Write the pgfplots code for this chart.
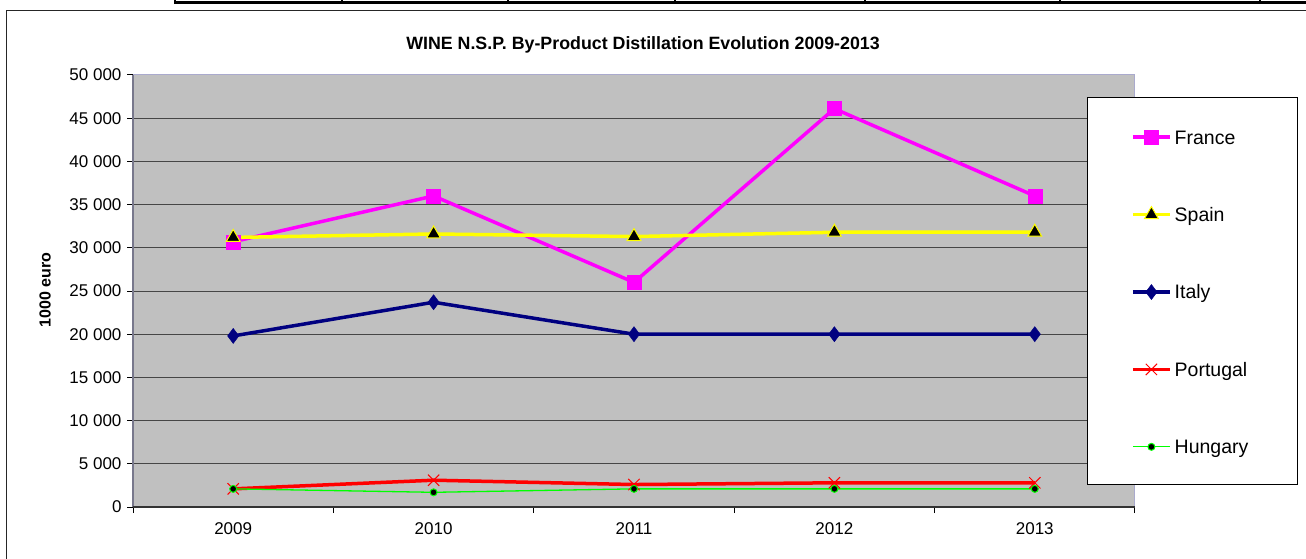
\documentclass[border=0pt]{standalone}
\usepackage{fontspec}
\setmainfont{Liberation Sans}
\usepackage{pgfplots}
\pgfplotsset{compat=1.18}
\definecolor{plotbg}{RGB}{192,192,192}
\definecolor{frmag}{RGB}{255,0,255}
\definecolor{spyel}{RGB}{255,255,0}
\definecolor{itnavy}{RGB}{0,0,128}
\definecolor{ptred}{RGB}{255,0,0}
\definecolor{hugreen}{RGB}{0,255,0}
\definecolor{pborder}{RGB}{170,170,205}
\definecolor{gridc}{RGB}{70,70,70}
\definecolor{leftax}{RGB}{120,120,140}
\begin{document}
\begin{tikzpicture}
\useasboundingbox (0pt,0pt) rectangle (1306pt,-559pt);
\fill[white] (0pt,0pt) rectangle (1306pt,-559pt);
% table fragment at the top
\fill[black] (175pt,-1.5pt) rectangle (1306pt,-4.5pt);
\foreach \xx in {175,342,508,675,865,1060,1260} \draw[black,line width=1.3pt] (\xx pt,0pt) -- (\xx pt,-4.5pt);
% chart frame
\draw[black!85, line width=1pt] (6pt,-570pt) -- (6pt,-11pt) -- (1320pt,-11pt);
\node[font=\fontsize{17.8}{20}\selectfont\bfseries] at (643pt,-45pt) {WINE N.S.P. By-Product Distillation Evolution 2009-2013};
\begin{axis}[
  at={(133pt,-507pt)}, anchor=south west,
  scale only axis, width=1002pt, height=432pt,
  xmin=-0.5, xmax=4.5, ymin=0, ymax=50000,
  axis background/.style={fill=plotbg},
  axis line style={draw=pborder, line width=1pt},
  clip=false,
  tick pos=left, tick align=outside,
  major tick length=6pt, minor tick length=6pt,
  xtick={0,1,2,3,4},
  xticklabels={2009,2010,2011,2012,2013},
  minor xtick={-0.5,0.5,1.5,2.5,3.5,4.5},
  major x tick style={draw=none},
  minor x tick style={black, line width=1pt},
  ytick={0,5000,10000,15000,20000,25000,30000,35000,40000,45000,50000},
  yticklabels={0,5 000,10 000,15 000,20 000,25 000,30 000,35 000,40 000,45 000,50 000},
  scaled y ticks=false,
  ytick style={black, line width=1pt},
  ymajorgrids,
  major grid style={gridc, line width=1pt},
  yticklabel style={font=\fontsize{17}{20}\selectfont, xshift=-2pt},
  xticklabel style={font=\fontsize{17}{20}\selectfont, yshift=-6pt},
  ylabel={1000 euro},
  every axis y label/.style={at={(axis description cs:-0.0878,0.502)}, rotate=90, anchor=center, font=\fontsize{16}{18}\selectfont\bfseries},
  legend image code/.code={\draw[mark repeat=2,mark phase=2,#1] plot coordinates {(0pt,0pt) (18.5pt,0pt) (37pt,0pt)};},
  legend style={at={(0.996,0.8806)}, anchor=north west, draw=none, fill=none,
    inner sep=0pt, row sep=56.5pt, column sep=1pt,
    font=\fontsize{19.5}{22}\selectfont},
  legend cell align=left,
]
\addplot[frmag, line width=3.5pt, mark=square*, mark size=7pt, mark options={fill=frmag, draw=frmag, line width=0.5pt}]
  coordinates {(0,30700) (1,36000) (2,26000) (3,46100) (4,36000)};
\addlegendentry{France\strut}
\addplot[spyel, line width=3.5pt, mark=triangle*, mark size=8pt, mark options={fill=black, draw=spyel, line width=1pt}]
  coordinates {(0,31200) (1,31600) (2,31300) (3,31800) (4,31800)};
\addlegendentry{Spain\strut}
\addplot[itnavy, line width=3.5pt, mark=diamond*, mark size=7.5pt, mark options={fill=itnavy, draw=itnavy, line width=0.5pt}]
  coordinates {(0,19800) (1,23700) (2,20000) (3,20000) (4,20000)};
\addlegendentry{Italy\strut}
\addplot[ptred, line width=3.5pt, mark=x, mark size=8pt, mark options={draw=ptred, line width=1pt}]
  coordinates {(0,2100) (1,3100) (2,2600) (3,2800) (4,2800)};
\addlegendentry{Portugal\strut}
\addplot[hugreen, line width=1.3pt, mark=*, mark size=3.5pt, mark options={fill=black, draw=hugreen, line width=1pt}]
  coordinates {(0,2100) (1,1700) (2,2100) (3,2100) (4,2100)};
\addlegendentry{Hungary\strut}
\draw[leftax, line width=2pt] (rel axis cs:0,0) -- (rel axis cs:0,1);
\draw[black!80, line width=1.5pt] (rel axis cs:0,0) -- (rel axis cs:1,0);
\draw[black, fill=white, line width=1pt] (rel axis cs:0.9531,0.9468) rectangle (rel axis cs:1.1617,0.0532);
\end{axis}
\end{tikzpicture}
\end{document}
